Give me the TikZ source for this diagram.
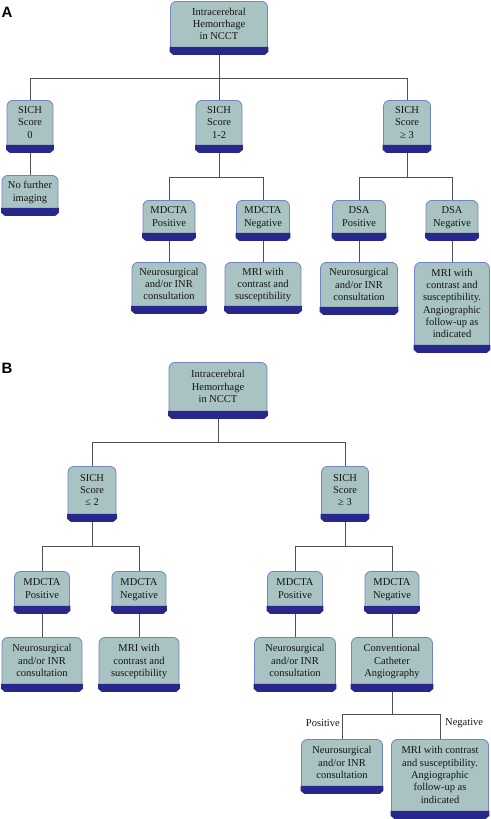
\documentclass[tikz,border=0pt]{standalone}
\usepackage{fontspec}
\setmainfont{Liberation Serif}
\newfontfamily\panelfont{Liberation Sans}
\usetikzlibrary{calc}
\definecolor{boxfill}{HTML}{A9C3C3}
\definecolor{boxline}{HTML}{7383C6}
\definecolor{boxbase}{HTML}{28278C}
\definecolor{wirecol}{HTML}{505050}

\begin{document}
\begin{tikzpicture}[x=1pt, y=-1pt,
  box/.style={draw=boxline, fill=boxfill, line width=0.8pt, rounded corners=6pt,
    anchor=north, align=center, inner sep=0pt, text depth=8pt, text=black!92,
    font=\fontsize{10.5}{12.3}\selectfont},
  wire/.style={draw=wirecol, line width=0.9pt},
  branch/.style={font=\fontsize{10.5}{12.3}\selectfont, text=black!92, inner sep=0pt},
  panel/.style={font=\panelfont\bfseries\fontsize{15}{15}\selectfont, inner sep=0pt}]
  \path[use as bounding box, fill=white] (0,0) rectangle (490,819);

  \node[panel] (labA) at (7,12) {A};
  \node[panel] (labB) at (7,368) {B};

  % panel A
  \node[box, minimum width=97pt, minimum height=53pt] (topA) at (219,1) {Intracerebral\\Hemorrhage\\in NCCT};
  \node[box, minimum width=46pt, minimum height=52pt] (s0A) at (30,100) {SICH\\Score\\0};
  \node[box, minimum width=46pt, minimum height=52pt] (s12A) at (219,100) {SICH\\Score\\1-2};
  \node[box, minimum width=47pt, minimum height=52pt] (s3A) at (407,100) {SICH\\Score\\≥ 3};
  \node[box, minimum width=56pt, minimum height=40pt] (nfA) at (30,175) {No further\\imaging};
  \node[box, minimum width=52pt, minimum height=40pt] (mpA) at (169,200) {MDCTA\\Positive};
  \node[box, minimum width=53pt, minimum height=40pt] (mnA) at (263,200) {MDCTA\\Negative};
  \node[box, minimum width=53pt, minimum height=40pt] (dpA) at (359,200) {DSA\\Positive};
  \node[box, minimum width=52pt, minimum height=40pt] (dnA) at (452,200) {DSA\\Negative};
  \node[box, minimum width=74pt, minimum height=51pt] (ncA1) at (169,262) {Neurosurgical\\and/or INR\\consultation};
  \node[box, minimum width=76pt, minimum height=51pt] (mrA1) at (263,262) {MRI with\\contrast and\\susceptibility};
  \node[box, minimum width=77pt, minimum height=52pt] (ncA2) at (359,262) {Neurosurgical\\and/or INR\\consultation};
  \node[box, minimum width=75pt, minimum height=90pt] (mrA2) at (452,262) {MRI with\\contrast and\\susceptibility.\\Angiographic\\follow-up as\\indicated};

  \draw[wire] (topA.south) -- ++(0,24) coordinate (busA) -| (s0A.north);
  \draw[wire] (busA) -| (s3A.north);
  \draw[wire] (busA) -- (s12A.north);
  \draw[wire] (s0A.south) -- (nfA.north);
  \draw[wire] (s12A.south) -- ++(0,25) coordinate (busA2) -| (mpA.north);
  \draw[wire] (busA2) -| (mnA.north);
  \draw[wire] (s3A.south) -- ++(0,25) coordinate (busA3) -| (dpA.north);
  \draw[wire] (busA3) -| (dnA.north);
  \draw[wire] (mpA.south) -- (ncA1.north);
  \draw[wire] (mnA.south) -- (mrA1.north);
  \draw[wire] (dpA.south) -- (ncA2.north);
  \draw[wire] (dnA.south) -- (mrA2.north);

  % panel B
  \node[box, minimum width=98pt, minimum height=56pt] (topB) at (218,362) {Intracerebral\\Hemorrhage\\in NCCT};
  \node[box, minimum width=48pt, minimum height=55pt] (s2B) at (92,466) {SICH\\Score\\≤ 2};
  \node[box, minimum width=47pt, minimum height=55pt] (s3B) at (345,466) {SICH\\Score\\≥ 3};
  \node[box, minimum width=55pt, minimum height=42pt] (mpB1) at (42,571) {MDCTA\\Positive};
  \node[box, minimum width=54pt, minimum height=42pt] (mnB1) at (139,571) {MDCTA\\Negative};
  \node[box, minimum width=55pt, minimum height=42pt] (mpB2) at (295,571) {MDCTA\\Positive};
  \node[box, minimum width=54pt, minimum height=42pt] (mnB2) at (392,571) {MDCTA\\Negative};
  \node[box, minimum width=80pt, minimum height=54pt] (ncB1) at (42,637) {Neurosurgical\\and/or INR\\consultation};
  \node[box, minimum width=80pt, minimum height=54pt] (mrB1) at (139,637) {MRI with\\contrast and\\susceptibility};
  \node[box, minimum width=81pt, minimum height=54pt] (ncB2) at (295,637) {Neurosurgical\\and/or INR\\consultation};
  \node[box, minimum width=81pt, minimum height=54pt] (ccB) at (392,637) {Conventional\\Catheter\\Angiography};
  \node[box, minimum width=81pt, minimum height=54pt] (ncB3) at (342,739) {Neurosurgical\\and/or INR\\consultation};
  \node[box, minimum width=97pt, minimum height=79pt] (mrB3) at (440,739) {MRI with contrast\\and susceptibility.\\Angiographic\\follow-up as\\indicated};

  \draw[wire] (topB.south) -- ++(0,24) coordinate (busB) -| (s2B.north);
  \draw[wire] (busB) -| (s3B.north);
  \draw[wire] (s2B.south) -- ++(0,25) coordinate (busB2) -| (mpB1.north);
  \draw[wire] (busB2) -| (mnB1.north);
  \draw[wire] (s3B.south) -- ++(0,25) coordinate (busB3) -| (mpB2.north);
  \draw[wire] (busB3) -| (mnB2.north);
  \draw[wire] (mpB1.south) -- (ncB1.north);
  \draw[wire] (mnB1.south) -- (mrB1.north);
  \draw[wire] (mpB2.south) -- (ncB2.north);
  \draw[wire] (mnB2.south) -- (ccB.north);
  \draw[wire] (ccB.south) -- ++(0,23) coordinate (busB4) -| (ncB3.north);
  \draw[wire] (busB4) -| (mrB3.north);

  \node[branch, anchor=east] (posB) at (340,723) {Positive};
  \node[branch, anchor=west] (negB) at (445,723) {Negative};

  % dark base under every box
  \foreach \n in {topA,s0A,s12A,s3A,nfA,mpA,mnA,dpA,dnA,ncA1,mrA1,ncA2,mrA2,
                  topB,s2B,s3B,mpB1,mnB1,mpB2,mnB2,ncB1,mrB1,ncB2,ccB,ncB3,mrB3}
    \fill[boxbase] ($(\n.south west)+(-0.4pt,8pt)$) -- ($(\n.south east)+(0.4pt,8pt)$)
      -- ($(\n.south east)+(0.4pt,3pt)$) -- ($(\n.south east)+(-3pt,0pt)$)
      -- ($(\n.south west)+(3pt,0pt)$) -- ($(\n.south west)+(-0.4pt,3pt)$) -- cycle;
\end{tikzpicture}
\end{document}
